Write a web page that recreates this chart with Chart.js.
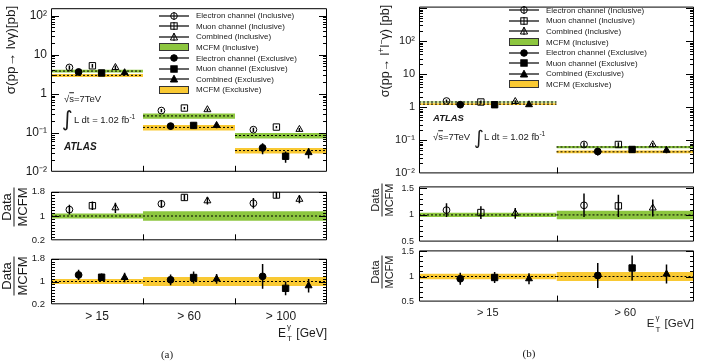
<!DOCTYPE html>
<html>
<head>
<meta charset="utf-8">
<title>W gamma / Z gamma cross sections</title>
<script src="https://cdn.jsdelivr.net/npm/chart.js@4.4.1/dist/chart.umd.min.js"></script>
<style>
  body { margin: 0; background: #fff; }
  #fig { position: relative; width: 702px; height: 363px; overflow: hidden; font-family: "Liberation Sans", Arial, sans-serif; color: #1a1a1a; }
  #fig canvas { position: absolute; }
  .t { position: absolute; white-space: nowrap; line-height: 1; }
  .rot { position: absolute; white-space: nowrap; line-height: 1; transform: translate(-50%, -50%) rotate(-90deg); }
  .frac { position: absolute; display: flex; flex-direction: column; align-items: center; line-height: 1; transform: translate(-50%, -50%) rotate(-90deg); }
  .frac span + span { border-top: 1px solid #1a1a1a; padding-top: 1px; margin-top: 1px; }
  .legend { position: absolute; font-size: 8px; }
  .legend div { display: flex; align-items: center; height: 10.6px; }
  .legend svg { flex: none; margin-right: 7px; }
  .et { position: relative; display: inline-block; width: 7px; height: 1em; vertical-align: top; }
  .et .sp { position: absolute; left: 1px; top: -4px; font-size: 8px; }
  .et .sb { position: absolute; left: 1px; bottom: -4px; font-size: 8px; }
  sup { font-size: 70%; line-height: 0; }
</style>
</head>
<body>
<div id="fig"></div>
<script>
// ---------- (a) pp -> l nu gamma ----------
const binsA = ['> 15', '> 60', '> 100'];
const mcfmInclA = [3.8, 0.27, 0.085];
const mcfmExclA = [2.95, 0.137, 0.035];
const mcfmInclUncA = [0.085, 0.16, 0.16];   // relative band half-width
const mcfmExclUncA = [0.085, 0.16, 0.16];

const eInclA = [4.7, 0.37, 0.12];
const eInclErrA = [0.6, 0.035, 0.015];
const muInclA = [5.2, 0.43, 0.14];
const muInclErrA = [0.55, 0.03, 0.01];
const combInclA = [4.7, 0.39, 0.122];
const combInclErrA = [0.6, 0.03, 0.011];
const eExclA = [3.6, 0.148, 0.041];
const eExclErrA = [0.5, 0.027, 0.013];
const muExclA = [3.4, 0.154, 0.025];
const muExclErrA = [0.4, 0.028, 0.008];
const combExclA = [3.45, 0.154, 0.031];
const combExclErrA = [0.5, 0.023, 0.009];

// Data / MCFM, (a)
const rEInclA = [1.21, 1.40, 1.42];
const rEInclErrA = [0.16, 0.13, 0.17];
const rMuInclA = [1.34, 1.61, 1.69];
const rMuInclErrA = [0.14, 0.10, 0.10];
const rCombInclA = [1.27, 1.50, 1.55];
const rCombInclErrA = [0.17, 0.12, 0.13];
const rEExclA = [1.23, 1.06, 1.18];
const rEExclErrA = [0.18, 0.19, 0.43];
const rMuExclA = [1.15, 1.14, 0.76];
const rMuExclErrA = [0.13, 0.21, 0.24];
const rCombExclA = [1.14, 1.09, 0.85];
const rCombExclErrA = [0.17, 0.17, 0.24];

// ---------- (b) pp -> l+ l- gamma ----------
const binsB = ['> 15', '> 60'];
const mcfmInclB = [1.45, 0.063];
const mcfmExclB = [1.25, 0.045];
const mcfmInclUncB = [0.04, 0.08];
const mcfmExclUncB = [0.055, 0.09];

const eInclB = [1.55, 0.075];
const eInclErrB = [0.18, 0.012];
const muInclB = [1.45, 0.075];
const muInclErrB = [0.17, 0.012];
const combInclB = [1.5, 0.074];
const combInclErrB = [0.15, 0.009];
const eExclB = [1.2, 0.046];
const eExclErrB = [0.13, 0.011];
const muExclB = [1.2, 0.053];
const muExclErrB = [0.12, 0.011];
const combExclB = [1.2, 0.05];
const combExclErrB = [0.12, 0.009];

const rEInclB = [1.09, 1.18];
const rEInclErrB = [0.13, 0.22];
const rMuInclB = [1.045, 1.17];
const rMuInclErrB = [0.12, 0.21];
const rCombInclB = [1.03, 1.13];
const rCombInclErrB = [0.10, 0.16];
const rEExclB = [0.955, 1.02];
const rEExclErrB = [0.12, 0.25];
const rMuExclB = [0.98, 1.17];
const rMuExclErrB = [0.11, 0.25];
const rCombExclB = [0.955, 1.05];
const rCombExclErrB = [0.11, 0.19];

// tick labels
const logTickVals = [0.01, 0.1, 1, 10, 100];
const logTickLabels = ['10⁻²', '10⁻¹', '1', '10', '10²'];
const ratioTickValsA = [0.2, 1, 1.8];
const ratioTickLabelsA = ['0.2', '1', '1.8'];
const ratioTickValsB = [0.5, 1, 1.5];
const ratioTickLabelsB = ['0.5', '1', '1.5'];

const legendLabels = ['Electron channel (Inclusive)', 'Muon channel (Inclusive)', 'Combined (Inclusive)', 'MCFM (Inclusive)',
  'Electron channel (Exclusive)', 'Muon channel (Exclusive)', 'Combined (Exclusive)', 'MCFM (Exclusive)'];

// ---------- style ----------
const FONT = '"Liberation Sans", Arial, sans-serif';
const GREEN = '#8dc63f';
const YELLOW = '#f9c933';
const STY = {
  eIncl:    { off: 0.2,  shape: 'circle',   open: true,  r: 3.4 },
  eExcl:    { off: 0.3,  shape: 'circle',   open: false, r: 3.4 },
  muIncl:   { off: 0.45, shape: 'rect',     open: true,  r: 4.5 },
  muExcl:   { off: 0.55, shape: 'rect',     open: false, r: 4.5 },
  combIncl: { off: 0.7,  shape: 'triangle', open: true,  r: 4 },
  combExcl: { off: 0.8,  shape: 'triangle', open: false, r: 4 }
};
const PAD = 10;
const fig = document.getElementById('fig');

function labelFor(v, vals, labels) {
  const i = vals.findIndex(t => Math.abs(t - v) <= 1e-9 * Math.max(1, Math.abs(t)));
  return i >= 0 ? labels[i] : '';
}

function logTicks(maxVal) {
  const t = [];
  for (let e = -2; e <= 3; e++) {
    for (let m = 1; m < 10; m++) {
      const v = m * Math.pow(10, e);
      if (v <= maxVal) t.push({ value: v, major: m === 1 });
    }
  }
  return t;
}

function linTicks(lo, hi, step, majors) {
  const t = [];
  for (let v = lo; v <= hi + 1e-9; v += step) {
    const r = Math.round(v * 100) / 100;
    t.push({ value: r, major: majors.some(m => Math.abs(m - r) < 1e-9) });
  }
  return t;
}

function markerSet(vals, s) {
  return {
    data: vals.map((v, i) => ({ x: i + s.off, y: v })),
    showLine: false, pointStyle: s.shape, pointRadius: s.r,
    pointBorderColor: '#000', pointBorderWidth: 1,
    pointBackgroundColor: s.open ? 'rgba(0,0,0,0)' : '#000'
  };
}

function errorSet(vals, errs, s) {
  const d = [];
  vals.forEach((v, i) => {
    d.push({ x: i + s.off, y: v - errs[i] }, { x: i + s.off, y: v + errs[i] }, { x: i + s.off, y: null });
  });
  return { data: d, showLine: true, spanGaps: false, borderColor: '#000', borderWidth: 1.5, pointRadius: 0 };
}

function centralSet(c) {
  const d = [];
  c.forEach((v, i) => { d.push({ x: i, y: v }, { x: i + 1, y: v }, { x: i + 1, y: null }); });
  return { data: d, showLine: true, spanGaps: false, borderColor: '#000', borderWidth: 1, borderDash: [2, 2], pointRadius: 0 };
}

function bandSets(c, u, color) {
  return c.map((v, i) => ({
    data: [{ x: i, y: v * (1 + u[i]) }, { x: i + 1, y: v * (1 + u[i]) }],
    showLine: true, borderWidth: 1, borderColor: 'rgba(0,0,0,0)', pointRadius: 0,
    fill: { value: v * (1 - u[i]) }, backgroundColor: color
  }));
}

function buildSets(series, bands) {
  const markers = series.map(s => markerSet(s.v, STY[s.k]));
  const errs = series.map(s => errorSet(s.v, s.e, STY[s.k]));
  const lines = bands.map(b => centralSet(b.c));
  const fills = bands.flatMap(b => bandSets(b.c, b.u, b.color));
  return [...markers, ...errs, ...lines, ...fills];
}

const framePlugin = {
  id: 'frame',
  afterDraw(chart) {
    const { ctx, chartArea: a, scales: { x, y } } = chart;
    ctx.save();
    ctx.strokeStyle = '#000';
    ctx.lineWidth = 1;
    ctx.beginPath();
    ctx.rect(a.left + 0.5, a.top + 0.5, a.right - a.left - 1, a.bottom - a.top - 1);
    y.ticks.forEach(t => {
      const py = Math.round(y.getPixelForValue(t.value)) + 0.5;
      if (py < a.top || py > a.bottom) return;
      const len = t.major ? 8 : 4;
      ctx.moveTo(a.left, py); ctx.lineTo(a.left + len, py);
      ctx.moveTo(a.right - len, py); ctx.lineTo(a.right, py);
    });
    for (let i = 1; i < x.max; i++) {
      const px = Math.round(x.getPixelForValue(i)) + 0.5;
      ctx.moveTo(px, a.bottom); ctx.lineTo(px, a.bottom - 6);
    }
    ctx.stroke();
    ctx.restore();
  }
};

function panel(geo, datasets, yo) {
  const left = geo.x0 - geo.axisW, top = geo.y0 - PAD;
  const w = geo.x1 - left + PAD, h = geo.y1 - geo.y0 + 2 * PAD;
  const cv = document.createElement('canvas');
  cv.width = w; cv.height = h;
  Object.assign(cv.style, { left: left + 'px', top: top + 'px', width: w + 'px', height: h + 'px' });
  fig.appendChild(cv);
  const chart = new Chart(cv, {
    type: 'scatter',
    data: { datasets },
    options: {
      responsive: false, animation: false, events: [],
      layout: { padding: { top: PAD, right: PAD, bottom: PAD, left: 0 } },
      plugins: { legend: { display: false }, tooltip: { enabled: false } },
      scales: {
        x: { type: 'linear', min: 0, max: geo.nBins, display: false },
        y: {
          type: yo.type, min: yo.min, max: yo.max,
          afterFit: s => { s.width = geo.axisW; },
          afterBuildTicks: s => { s.ticks = yo.ticks.map(t => ({ value: t.value, major: t.major })); },
          grid: { display: false, drawTicks: false },
          border: { display: false },
          ticks: {
            autoSkip: false, padding: yo.pad, color: '#1a1a1a',
            font: { size: yo.fontSize, family: FONT },
            callback: v => labelFor(v, yo.vals, yo.labels)
          }
        }
      }
    },
    plugins: [framePlugin]
  });
  return { chart, left, top };
}

function addText(html, x, y, align, css) {
  const d = document.createElement('div');
  d.className = 't';
  d.innerHTML = html;
  if (css) d.style.cssText = css;
  d.style.left = x + 'px';
  d.style.top = y + 'px';
  const tx = align === 'center' ? '-50%' : align === 'right' ? '-100%' : '0';
  d.style.transform = `translate(${tx},-50%)`;
  fig.appendChild(d);
  return d;
}

function addRot(cls, html, x, y, fs) {
  const d = document.createElement('div');
  d.className = cls;
  d.innerHTML = html;
  d.style.left = x + 'px'; d.style.top = y + 'px'; d.style.fontSize = fs + 'px';
  fig.appendChild(d);
}

function iconSvg(k) {
  if (k.band) {
    return `<svg width="30" height="10"><rect x="0.5" y="1.5" width="29" height="7" fill="${k.band}" stroke="#333" stroke-width="1"/></svg>`;
  }
  const fill = k.open ? 'none' : '#000';
  let m = '';
  if (k.shape === 'circle') m = `<circle cx="15" cy="5" r="3.3" fill="${fill}" stroke="#000"/>`;
  if (k.shape === 'rect') m = `<rect x="11.8" y="1.8" width="6.4" height="6.4" fill="${fill}" stroke="#000"/>`;
  if (k.shape === 'triangle') m = `<polygon points="15,1.2 18.6,8 11.4,8" fill="${fill}" stroke="#000"/>`;
  const bar = k.open ? '<line x1="15" y1="1" x2="15" y2="9" stroke="#000"/>' : '';
  return `<svg width="30" height="10"><line x1="0" y1="5" x2="30" y2="5" stroke="#000" stroke-width="1.2"/>${bar}${m}</svg>`;
}

function addLegend(x, y) {
  const kinds = [STY.eIncl, STY.muIncl, STY.combIncl, { band: GREEN }, STY.eExcl, STY.muExcl, STY.combExcl, { band: YELLOW }];
  const box = document.createElement('div');
  box.className = 'legend';
  box.style.left = x + 'px'; box.style.top = y + 'px';
  box.innerHTML = legendLabels.map((l, i) => `<div>${iconSvg(kinds[i])}<span>${l}</span></div>`).join('');
  fig.appendChild(box);
}

const ET = 'E<span class="et"><span class="sp">γ</span><span class="sb">T</span></span> [GeV]';
const ROOTS = '√<span style="text-decoration:overline">s</span>=7TeV';
const LUMI = 'L dt = 1.02 fb<sup>-1</sup>';

// ================= panel (a) =================
panel({ x0: 51, x1: 327, y0: 7, y1: 173, axisW: 51, nBins: binsA.length },
  buildSets([
    { k: 'eIncl', v: eInclA, e: eInclErrA }, { k: 'muIncl', v: muInclA, e: muInclErrA }, { k: 'combIncl', v: combInclA, e: combInclErrA },
    { k: 'eExcl', v: eExclA, e: eExclErrA }, { k: 'muExcl', v: muExclA, e: muExclErrA }, { k: 'combExcl', v: combExclA, e: combExclErrA }
  ], [
    { c: mcfmInclA, u: mcfmInclUncA, color: GREEN }, { c: mcfmExclA, u: mcfmExclUncA, color: YELLOW }
  ]),
  { type: 'logarithmic', min: 0.01, max: 155, ticks: logTicks(155), vals: logTickVals, labels: logTickLabels, fontSize: 12, pad: 4 });

panel({ x0: 51, x1: 327, y0: 190, y1: 242, axisW: 51, nBins: binsA.length },
  buildSets([
    { k: 'eIncl', v: rEInclA, e: rEInclErrA }, { k: 'muIncl', v: rMuInclA, e: rMuInclErrA }, { k: 'combIncl', v: rCombInclA, e: rCombInclErrA }
  ], [{ c: binsA.map(() => 1), u: mcfmInclUncA, color: GREEN }]),
  { type: 'linear', min: 0.2, max: 1.8, ticks: linTicks(0.2, 1.8, 0.1, ratioTickValsA), vals: ratioTickValsA, labels: ratioTickLabelsA, fontSize: 9.5, pad: 6 });

const lowA = panel({ x0: 51, x1: 327, y0: 257, y1: 306, axisW: 51, nBins: binsA.length },
  buildSets([
    { k: 'eExcl', v: rEExclA, e: rEExclErrA }, { k: 'muExcl', v: rMuExclA, e: rMuExclErrA }, { k: 'combExcl', v: rCombExclA, e: rCombExclErrA }
  ], [{ c: binsA.map(() => 1), u: mcfmExclUncA, color: YELLOW }]),
  { type: 'linear', min: 0.2, max: 1.8, ticks: linTicks(0.2, 1.8, 0.1, ratioTickValsA), vals: ratioTickValsA, labels: ratioTickLabelsA, fontSize: 9.5, pad: 6 });

binsA.forEach((b, i) => addText(b, lowA.left + lowA.chart.scales.x.getPixelForValue(i + 0.5), 316, 'center', 'font-size:12px'));
addText(ET, 327, 333, 'right', 'font-size:12px');
addText('(a)', 167, 354, 'center', 'font-family:"Liberation Serif",serif;font-size:11px');
addRot('rot', 'σ(pp→ lνγ)[pb]', 11, 50, 13.5);
addRot('frac', '<span>Data</span><span>MCFM</span>', 14, 207, 13);
addRot('frac', '<span>Data</span><span>MCFM</span>', 14, 276, 13);
addLegend(159, 10.4);
addText(ROOTS, 64, 99, 'left', 'font-size:9.5px');
addText('∫', 62, 119, 'left', 'font-size:21px;font-family:"DejaVu Sans",sans-serif');
addText(LUMI, 74, 120, 'left', 'font-size:9.5px');
addText('ATLAS', 64, 147, 'left', 'font-size:10px;font-weight:bold;font-style:italic');

// ================= panel (b) =================
panel({ x0: 419, x1: 694, y0: 6, y1: 174, axisW: 50, nBins: binsB.length },
  buildSets([
    { k: 'eIncl', v: eInclB, e: eInclErrB }, { k: 'muIncl', v: muInclB, e: muInclErrB }, { k: 'combIncl', v: combInclB, e: combInclErrB },
    { k: 'eExcl', v: eExclB, e: eExclErrB }, { k: 'muExcl', v: muExclB, e: muExclErrB }, { k: 'combExcl', v: combExclB, e: combExclErrB }
  ], [
    { c: mcfmInclB, u: mcfmInclUncB, color: GREEN }, { c: mcfmExclB, u: mcfmExclUncB, color: YELLOW }
  ]),
  { type: 'logarithmic', min: 0.01, max: 1120, ticks: logTicks(1120), vals: logTickVals, labels: logTickLabels, fontSize: 11, pad: 4 });

panel({ x0: 419, x1: 694, y0: 186, y1: 242, axisW: 50, nBins: binsB.length },
  buildSets([
    { k: 'eIncl', v: rEInclB, e: rEInclErrB }, { k: 'muIncl', v: rMuInclB, e: rMuInclErrB }, { k: 'combIncl', v: rCombInclB, e: rCombInclErrB }
  ], [{ c: binsB.map(() => 1), u: mcfmInclUncB, color: GREEN }]),
  { type: 'linear', min: 0.5, max: 1.535, ticks: linTicks(0.5, 1.5, 0.1, ratioTickValsB), vals: ratioTickValsB, labels: ratioTickLabelsB, fontSize: 9, pad: 5 });

const lowB = panel({ x0: 419, x1: 694, y0: 250, y1: 302, axisW: 50, nBins: binsB.length },
  buildSets([
    { k: 'eExcl', v: rEExclB, e: rEExclErrB }, { k: 'muExcl', v: rMuExclB, e: rMuExclErrB }, { k: 'combExcl', v: rCombExclB, e: rCombExclErrB }
  ], [{ c: binsB.map(() => 1), u: mcfmExclUncB, color: YELLOW }]),
  { type: 'linear', min: 0.5, max: 1.52, ticks: linTicks(0.5, 1.5, 0.1, ratioTickValsB), vals: ratioTickValsB, labels: ratioTickLabelsB, fontSize: 9, pad: 5 });

binsB.forEach((b, i) => addText(b, lowB.left + lowB.chart.scales.x.getPixelForValue(i + 0.5), 312, 'center', 'font-size:11px'));
addText(ET, 694, 324, 'right', 'font-size:11.5px');
addText('(b)', 529, 353, 'center', 'font-family:"Liberation Serif",serif;font-size:11px');
addRot('rot', 'σ(pp→ l<sup>+</sup>l<sup>−</sup>γ) [pb]', 385, 51, 12.5);
addRot('frac', '<span>Data</span><span>MCFM</span>', 382, 200, 11);
addRot('frac', '<span>Data</span><span>MCFM</span>', 382, 272, 11);
addLegend(509, 5);
addText('ATLAS', 433, 118, 'left', 'font-size:9.5px;font-weight:bold;font-style:italic');
addText(ROOTS, 433, 137, 'left', 'font-size:9.5px');
addText('∫', 474, 137, 'left', 'font-size:19px;font-family:"DejaVu Sans",sans-serif');
addText(LUMI, 484, 137, 'left', 'font-size:9.5px');
</script>
</body>
</html>
